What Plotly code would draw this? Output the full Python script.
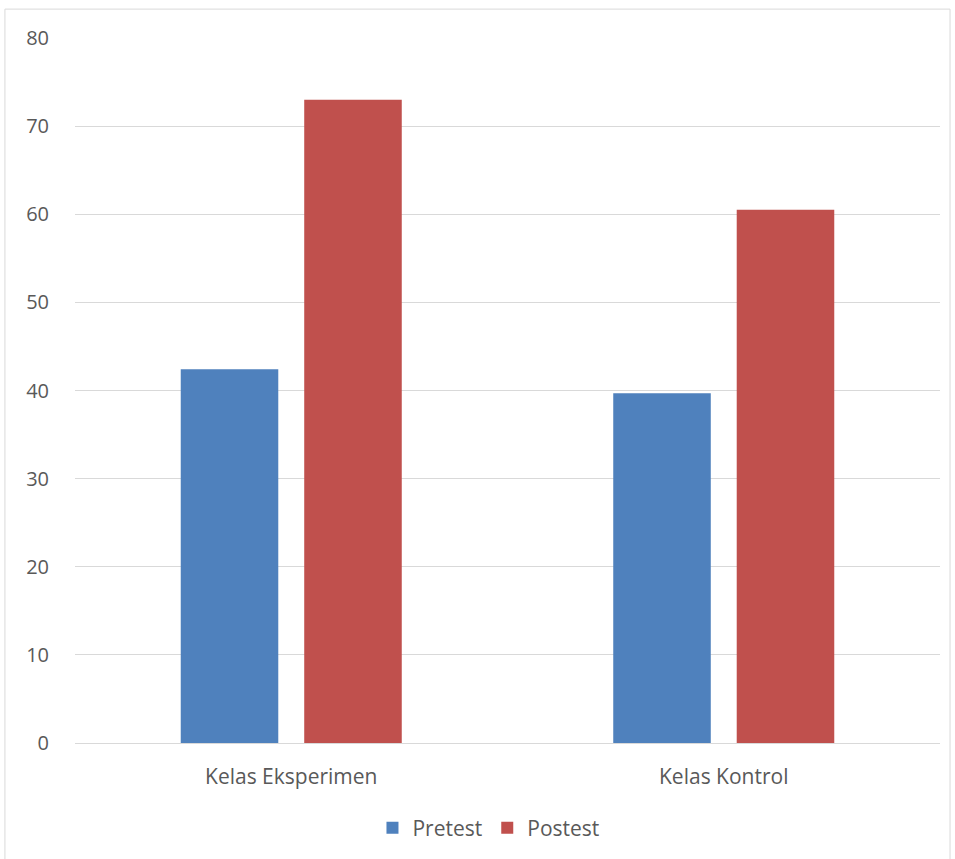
import plotly.graph_objects as go

categories = ["Kelas Eksperimen", "Kelas Kontrol"]
pretest = [42.4, 39.7]
postest = [73.0, 60.5]
y_ticks = [0, 10, 20, 30, 40, 50, 60, 70, 80]

fig = go.Figure()
fig.add_trace(go.Bar(name="Pretest", x=categories, y=pretest,
                     marker=dict(color="#4F81BD", line=dict(width=0))))
fig.add_trace(go.Bar(name="Postest", x=categories, y=postest,
                     marker=dict(color="#C0504D", line=dict(width=0))))

fig.update_layout(
    width=955, height=859,
    margin=dict(l=75, r=15, t=38, b=115),
    paper_bgcolor="white", plot_bgcolor="white",
    barmode="group", bargap=0.429, bargroupgap=0.21,
    font=dict(family="Open Sans, sans-serif", color="#595959", size=19),
    showlegend=True,
    legend=dict(orientation="h", x=0.478, xanchor="center", y=-0.119, yanchor="middle",
                font=dict(size=21, color="#595959"), itemwidth=30, traceorder="normal"),
    xaxis=dict(showgrid=False, showline=True, linecolor="#D9D9D9", linewidth=1,
               ticks="", tickfont=dict(size=21, color="#595959"), ticklabelstandoff=15),
    yaxis=dict(range=[0, 80], tickvals=y_ticks, showgrid=True, gridcolor="#D9D9D9",
               gridwidth=1, zeroline=False, showline=False, ticks="",
               tickfont=dict(size=20, color="#595959"), ticklabelstandoff=25),
    shapes=[dict(type="rect", xref="paper", yref="paper",
                 x0=-0.081, x1=1.0116, y0=-0.25, y1=1.041,
                 line=dict(color="#D9D9D9", width=1), fillcolor="rgba(0,0,0,0)", layer="below")],
)

fig.write_html("out.html")
